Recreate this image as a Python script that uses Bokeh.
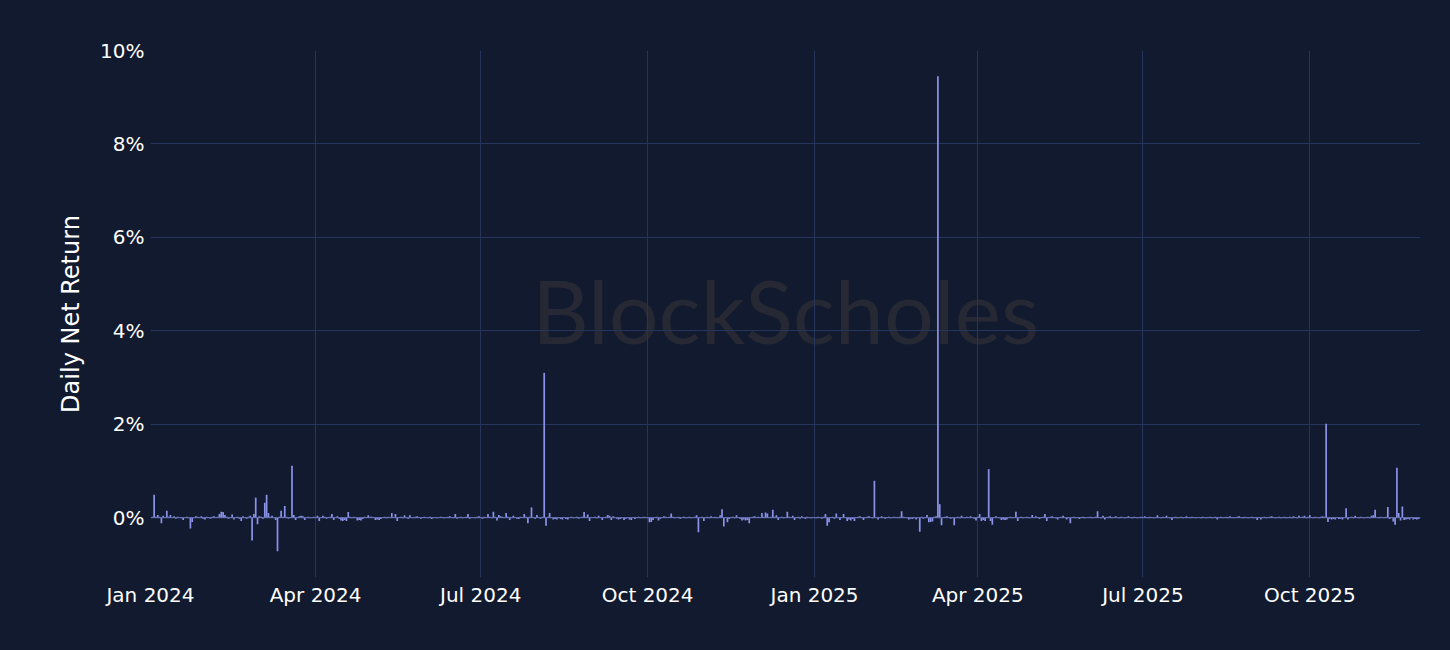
import pandas as pd
from bokeh.plotting import figure
from bokeh.models import (ColumnDataSource, Range1d, FixedTicker, DatetimeTickFormatter,
                          CustomJSTickFormatter, Label, Span)
from bokeh.embed import file_html
from bokeh.resources import INLINE

# ---------------- data: daily net return (%) per month ----------------
jan24 = [0.0, 0.02, 0.49, 0.02, 0.06, 0.02, -0.12, 0.04, 0.01, 0.15, 0.02, 0.06, 0.01, 0.03, -0.02, 0.02,
         0.01, -0.01, -0.05, 0.01, 0.02, -0.01, -0.23, -0.09, 0.01, 0.03, 0.02, 0.01, 0.03, -0.02, -0.04]
feb24 = [0.02, 0.01, -0.02, 0.02, 0.03, 0.01, 0.02, 0.08, 0.13, 0.12, 0.06, 0.02, -0.02, 0.01, 0.07,
         -0.04, 0.01, 0.02, -0.02, -0.07, 0.03, 0.01, -0.02, 0.02, 0.04, -0.49, 0.08, 0.43, -0.14]
mar24 = [0.03, 0.02, -0.02, 0.32, 0.49, 0.10, 0.02, 0.04, 0.01, -0.05, -0.72, 0.02, 0.15, 0.02, 0.25, 0.02,
         -0.02, 0.01, 1.11, 0.06, -0.05, 0.01, 0.03, 0.04, 0.03, -0.05, 0.01, 0.02, -0.01, 0.01, 0.02]
apr24 = [0.01, 0.04, -0.07, 0.01, 0.04, 0.02, -0.02, 0.01, 0.02, 0.08, -0.05, 0.01, 0.03, -0.02, -0.06,
         -0.07, -0.05, -0.07, 0.12, 0.02, -0.01, 0.02, 0.01, -0.06, -0.05, -0.06, -0.03, 0.02, 0.01, 0.05]
may24 = [0.02, 0.02, 0.01, -0.05, -0.04, -0.05, -0.03, 0.01, 0.02, -0.01, 0.02, 0.01, 0.10, 0.01, 0.08, -0.07,
         0.01, 0.02, -0.01, 0.05, 0.01, -0.02, 0.05, 0.01, -0.01, 0.02, 0.03, 0.01, -0.02, 0.01, 0.02]
jun24 = [0.01, -0.01, 0.02, -0.03, 0.01, 0.01, -0.01, 0.01, 0.02, 0.01, -0.01, 0.01, 0.02, 0.03, 0.01,
         -0.01, 0.08, -0.02, 0.01, 0.02, -0.01, 0.01, 0.02, 0.08, -0.02, 0.01, 0.01, -0.01, 0.02, 0.03]
jul24 = [0.01, -0.02, 0.02, 0.01, 0.08, 0.02, -0.01, 0.13, 0.02, -0.06, 0.06, 0.03, 0.02, 0.01, 0.10, 0.02,
         -0.05, 0.01, 0.04, 0.01, -0.02, -0.03, 0.02, 0.01, 0.08, 0.02, -0.12, 0.02, 0.22, 0.01, -0.02]
aug24 = [0.06, 0.01, -0.02, 0.02, 3.10, -0.17, 0.02, 0.10, 0.01, -0.04, -0.03, -0.04, 0.01, -0.03, -0.04, 0.01,
         -0.03, -0.04, 0.01, 0.02, -0.01, 0.01, 0.02, -0.02, 0.01, 0.02, 0.12, 0.02, 0.07, -0.07, 0.01]
sep24 = [0.01, 0.02, -0.01, 0.04, 0.01, -0.05, 0.01, 0.02, 0.06, 0.04, -0.05, 0.03, 0.01, -0.02, -0.04,
         -0.03, 0.01, -0.05, -0.02, 0.01, -0.04, -0.05, 0.01, -0.03, 0.01, 0.02, -0.01, 0.01, 0.02, 0.01]
oct24 = [0.01, -0.10, -0.09, -0.05, 0.01, 0.02, -0.06, -0.02, 0.01, 0.03, 0.02, 0.01, 0.02, 0.09, 0.02, -0.01,
         0.01, 0.02, -0.02, 0.01, 0.02, -0.01, 0.01, 0.02, -0.01, 0.01, 0.02, 0.05, -0.31, 0.01, 0.02]
nov24 = [-0.07, 0.01, 0.02, -0.01, 0.03, 0.01, 0.02, -0.01, 0.01, 0.05, 0.18, -0.19, 0.01, -0.10, -0.03,
         0.01, 0.02, -0.01, 0.05, 0.01, -0.02, -0.06, -0.04, -0.06, -0.05, -0.12, 0.01, 0.02, 0.03, 0.01]
dec24 = [0.02, 0.01, 0.10, 0.02, 0.11, 0.09, 0.01, 0.02, 0.17, 0.02, 0.05, -0.05, 0.01, 0.02, -0.01, 0.01,
         0.13, 0.02, 0.01, 0.04, -0.05, 0.01, 0.02, -0.02, 0.03, 0.01, -0.03, 0.02, 0.01, -0.01, 0.01]
jan25 = [0.01, -0.01, 0.02, 0.01, -0.02, 0.02, 0.08, -0.17, -0.10, 0.01, 0.02, -0.02, 0.09, 0.01, -0.05, 0.01,
         0.08, 0.01, -0.07, -0.04, -0.06, -0.03, -0.07, 0.01, 0.02, 0.03, 0.01, -0.05, 0.01, 0.02, 0.03]
feb25 = [0.01, -0.01, 0.79, 0.01, -0.04, 0.01, 0.03, 0.01, -0.02, 0.01, 0.02, -0.01, 0.01, 0.02, 0.01,
         -0.01, 0.02, 0.14, 0.02, 0.01, -0.01, -0.04, -0.02, -0.03, 0.01, -0.04, 0.01, -0.30]
mar25 = [0.02, -0.02, 0.01, 0.06, -0.10, -0.09, -0.08, 0.02, 0.03, 9.45, 0.29, -0.16, 0.01, 0.02, 0.03, 0.01,
         -0.02, 0.01, -0.16, 0.01, 0.02, -0.01, 0.04, 0.01, -0.01, 0.02, 0.01, 0.03, 0.01, -0.02, -0.06]
apr25 = [0.02, 0.08, -0.07, -0.05, -0.07, 0.01, 1.04, -0.07, -0.15, 0.01, 0.03, 0.01, -0.01, -0.05, -0.04,
         -0.05, -0.04, 0.01, 0.02, -0.01, 0.01, 0.13, -0.07, 0.01, 0.02, -0.01, 0.01, 0.02, -0.01, 0.01]
may25 = [0.06, 0.01, 0.03, 0.01, -0.03, 0.01, 0.02, 0.08, -0.07, 0.01, 0.02, 0.03, 0.01, -0.01, -0.04, 0.01,
         0.02, 0.04, 0.01, -0.04, 0.01, -0.12, 0.01, 0.02, -0.01, 0.01, -0.03, 0.01, 0.02, -0.01, 0.01]
jun25 = [0.01, 0.02, -0.01, 0.01, 0.02, 0.14, 0.01, -0.01, 0.04, -0.04, 0.01, 0.02, 0.03, -0.01, 0.01,
         0.03, 0.01, -0.01, 0.02, 0.01, -0.01, 0.01, 0.03, 0.01, -0.01, 0.02, 0.01, -0.01, 0.01, 0.02]
jul25 = [0.01, 0.03, 0.01, -0.01, 0.02, 0.01, -0.01, 0.01, 0.05, 0.01, -0.01, 0.02, 0.01, 0.04, 0.01, -0.01,
         -0.05, 0.01, 0.02, -0.01, 0.01, 0.02, -0.01, 0.01, 0.03, 0.01, -0.01, 0.02, 0.01, -0.01, 0.01]
aug25 = [0.01, -0.01, 0.02, 0.01, -0.01, 0.01, 0.02, -0.01, 0.01, 0.02, -0.04, 0.01, 0.02, -0.01, 0.01, 0.02,
         -0.01, 0.03, 0.01, -0.01, 0.01, 0.02, 0.03, 0.01, -0.01, 0.02, 0.01, -0.01, 0.01, 0.02, -0.01]
sep25 = [0.01, -0.05, 0.01, -0.04, 0.01, 0.02, -0.01, 0.01, 0.02, 0.03, 0.01, -0.01, 0.01, 0.02, -0.01,
         0.01, 0.02, -0.01, 0.01, 0.02, -0.01, 0.03, 0.01, -0.01, 0.04, 0.01, 0.02, 0.04, -0.01, 0.02]
oct25 = [0.05, 0.01, -0.01, 0.02, 0.01, -0.01, 0.02, 0.03, 0.02, 2.01, -0.09, -0.02, -0.04, -0.03, -0.04, 0.01,
         -0.03, -0.02, -0.04, 0.01, 0.20, -0.04, 0.01, 0.02, -0.01, 0.04, 0.01, -0.01, 0.02, 0.01, -0.01]
nov25 = [0.01, 0.02, -0.01, 0.04, 0.05, 0.17, 0.01, -0.01, 0.02, 0.01, -0.01, 0.02, 0.23, -0.03, 0.01,
         -0.08, -0.15, 1.07, 0.10, -0.06, 0.24, -0.05, -0.04, -0.03, -0.04, 0.01, -0.04, -0.03, -0.04, -0.03]

months = [("2024-01", jan24), ("2024-02", feb24), ("2024-03", mar24), ("2024-04", apr24),
          ("2024-05", may24), ("2024-06", jun24), ("2024-07", jul24), ("2024-08", aug24),
          ("2024-09", sep24), ("2024-10", oct24), ("2024-11", nov24), ("2024-12", dec24),
          ("2025-01", jan25), ("2025-02", feb25), ("2025-03", mar25), ("2025-04", apr25),
          ("2025-05", may25), ("2025-06", jun25), ("2025-07", jul25), ("2025-08", aug25),
          ("2025-09", sep25), ("2025-10", oct25), ("2025-11", nov25)]

x_tick_dates = ["2024-01-01", "2024-04-01", "2024-07-01", "2024-10-01",
                "2025-01-01", "2025-04-01", "2025-07-01", "2025-10-01"]
y_ticks = [0, 2, 4, 6, 8, 10]
y_title = "Daily Net Return"
watermark = "BlockScholes"

# ---------------- build ----------------
dates, rets = [], []
for m, vals in months:
    start = pd.Timestamp(m + "-01")
    for i, v in enumerate(vals):
        dates.append(start + pd.Timedelta(days=i))
        rets.append(v)
src = ColumnDataSource(dict(date=dates, ret=rets))

BG = "#111a2e"
GRID = "#25345a"
BAR = "#8a92e8"
FONT = "DejaVu Sans"

x0 = pd.Timestamp("2024-01-01")
x1 = pd.Timestamp("2025-12-01")

p = figure(width=1434, height=634, x_axis_type="datetime", output_backend="svg",
           toolbar_location=None, x_range=Range1d(x0, x1), y_range=Range1d(-1.28, 10.0),
           min_border_left=150, min_border_right=14, min_border_top=50, min_border_bottom=57)
p.background_fill_color = BG
p.border_fill_color = BG
p.outline_line_color = None

wm = Label(x=x0 + (x1 - x0) * 0.5, y=4.45, text=watermark, text_align="center",
           text_baseline="middle", text_font="Lato", text_font_size="88px",
           text_color="#262833", level="image")
p.add_layout(wm)

p.add_layout(Span(location=0, dimension="width", line_color="#6b72b4", line_width=1, level="glyph"))

p.vbar(x="date", top="ret", bottom=0, width=0.95 * 86400000, source=src,
       fill_color=BAR, line_color=None)

p.xaxis.ticker = FixedTicker(ticks=[pd.Timestamp(d).value / 1e6 for d in x_tick_dates])
p.xaxis.formatter = DatetimeTickFormatter(days="%b %Y", months="%b %Y", years="%b %Y")
p.yaxis.ticker = FixedTicker(ticks=y_ticks)
p.yaxis.formatter = CustomJSTickFormatter(code="return tick.toFixed(0) + '%';")

for ax in (p.xaxis, p.yaxis):
    ax.axis_line_color = None
    ax.major_tick_line_color = None
    ax.minor_tick_line_color = None
    ax.major_tick_out = 0
    ax.major_tick_in = 0
    ax.major_label_text_color = "#ffffff"
    ax.major_label_text_font = FONT
    ax.major_label_text_font_size = "20px"

p.xaxis.major_label_standoff = 5
p.yaxis.major_label_standoff = 6
p.yaxis.axis_label = y_title
p.yaxis.axis_label_text_font = FONT
p.yaxis.axis_label_text_font_size = "24px"
p.yaxis.axis_label_text_font_style = "normal"
p.yaxis.axis_label_text_color = "#ffffff"
p.yaxis.axis_label_standoff = 12

p.xgrid.grid_line_color = GRID
p.ygrid.grid_line_color = GRID
p.xgrid.grid_line_width = 1
p.ygrid.grid_line_width = 1

html = file_html(p, INLINE)
html = html.replace("</head>", "<style>html,body{background:%s;}</style></head>" % BG)
open("out.html", "w").write(html)
